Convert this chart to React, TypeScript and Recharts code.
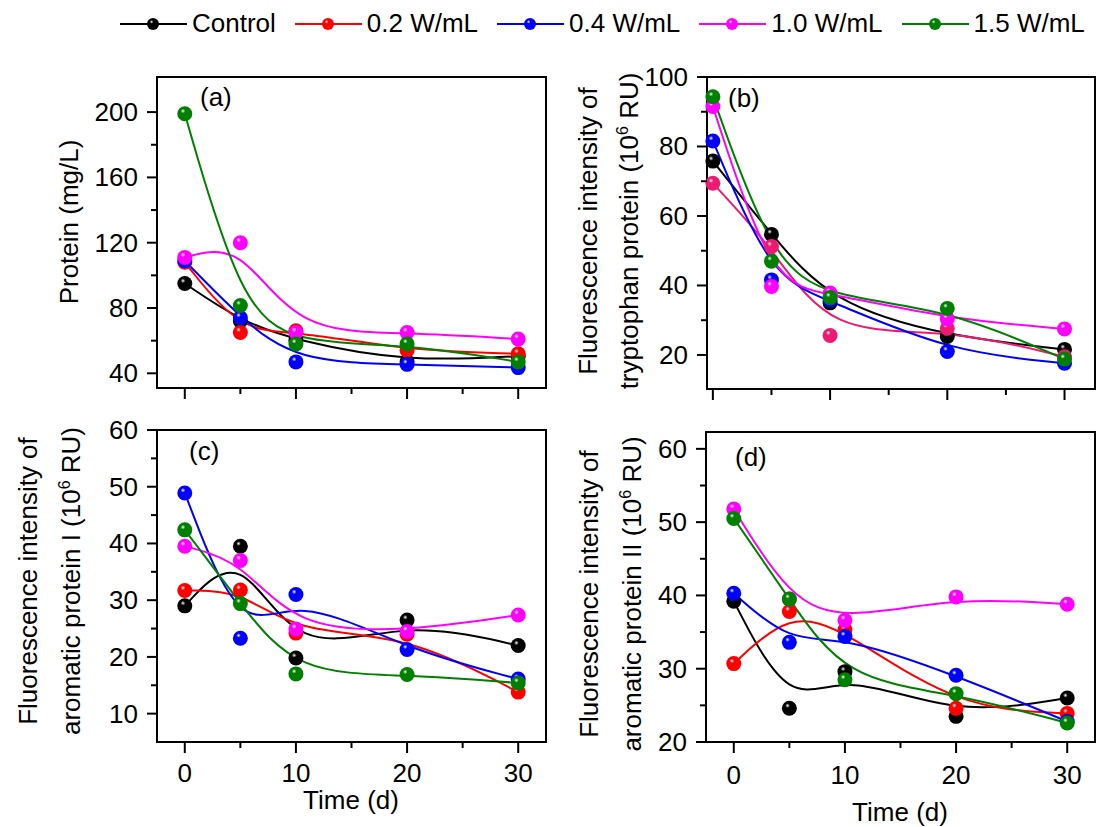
import React from 'react';
import { ComposedChart, Line, XAxis, YAxis, ReferenceArea } from 'recharts';

const FONT = '"Liberation Sans", Arial, sans-serif';

const days = [0, 5, 10, 20, 30];
const seriesNames = ['Control', '0.2 W/mL', '0.4 W/mL', '1.0 W/mL', '1.5 W/mL'];
const seriesKeys = ['control', 'w02', 'w04', 'w10', 'w15'];
const seriesColors = ['#000000', '#ff0000', '#0000ff', '#ff00ff', '#008000'];
// panel (b) shows the 0.2 W/mL series in a deeper pink
const seriesColorsB = ['#000000', '#ee1a72', '#0000ff', '#ff00ff', '#008000'];

const xTicks = [0, 5, 10, 15, 20, 25, 30];

// (a) protein, mg/L
const protControl = [95, 72, 60, 47, 50.5];
const prot02 = [108, 65, 66, 54, 52];
const prot04 = [109, 74, 47, 45.5, 43.5];
const prot10 = [111, 120, 65, 65, 61];
const prot15 = [199, 81.5, 58, 58, 47];
const protTicks = [40, 60, 80, 100, 120, 140, 160, 180, 200];

// (b) tryptophan protein, 10^6 RU
const trpControl = [75.8, 54.7, 35, 25.3, 21.6];
const trp02 = [69.4, 51.2, 25.6, 27.7, 19.5];
const trp04 = [81.6, 41.6, 35.8, 21, 17.6];
const trp10 = [91.5, 39.7, 37.8, 30.4, 27.5];
const trp15 = [94.3, 47, 36.5, 33.4, 18.8];
const trpTicks = [20, 30, 40, 50, 60, 70, 80, 90, 100];

// (c) aromatic protein I, 10^6 RU
const aro1Control = [29, 39.5, 19.8, 26.5, 22];
const aro102 = [31.7, 31.8, 24.2, 24, 13.8];
const aro104 = [48.9, 23.3, 31, 21.3, 16.1];
const aro110 = [39.5, 37, 24.9, 24.5, 27.4];
const aro115 = [42.4, 29.4, 17, 16.9, 15.4];
const aro1Ticks = [10, 15, 20, 25, 30, 35, 40, 45, 50, 55, 60];

// (d) aromatic protein II, 10^6 RU
const aro2Control = [39.2, 24.6, 29.6, 23.5, 26];
const aro202 = [30.7, 37.8, 35.3, 24.6, 23.9];
const aro204 = [40.3, 33.6, 34.4, 29.1, 22.8];
const aro210 = [51.8, 39.5, 36.6, 39.8, 38.8];
const aro215 = [50.5, 39.5, 28.5, 26.6, 22.6];
const aro2Ticks = [20, 25, 30, 35, 40, 45, 50, 55, 60];

const buildRows = (cols: number[][]) =>
  days.map((d, i) => {
    const row: Record<string, number> = { day: d };
    seriesKeys.forEach((k, s) => (row[k] = cols[s][i]));
    return row;
  });

const dataA = buildRows([protControl, prot02, prot04, prot10, prot15]);
const dataB = buildRows([trpControl, trp02, trp04, trp10, trp15]);
const dataC = buildRows([aro1Control, aro102, aro104, aro110, aro115]);
const dataD = buildRows([aro2Control, aro202, aro204, aro210, aro215]);

const BallGradients = ({ prefix, colors }: { prefix: string; colors: string[] }) => (
  <defs>
    {colors.map((c, i) => (
      <radialGradient key={i} id={`${prefix}-${i}`} cx="38%" cy="32%" r="70%">
        <stop offset="0%" stopColor="#ffffff" />
        <stop offset="22%" stopColor={c} />
        <stop offset="100%" stopColor={c} />
      </radialGradient>
    ))}
  </defs>
);

const makeXTick = (labels: boolean, labelOffset: number) => (p: any) => {
  const major = p.payload.value % 10 === 0;
  return (
    <g>
      <line x1={p.x} x2={p.x} y1={p.y} y2={p.y + (major ? 11 : 6)} stroke="#000" strokeWidth={2} />
      {labels && major && (
        <text x={p.x} y={p.y + labelOffset} textAnchor="middle" fontSize={26} fontFamily={FONT} fill="#000">
          {p.payload.value}
        </text>
      )}
    </g>
  );
};

const makeYTick = (step: number) => (p: any) => {
  const major = p.payload.value % step === 0;
  return (
    <g>
      <line x1={p.x - (major ? 10 : 6)} x2={p.x} y1={p.y} y2={p.y} stroke="#000" strokeWidth={2} />
      {major && (
        <text x={p.x - 19} y={p.y + 9} textAnchor="end" fontSize={26} fontFamily={FONT} fill="#000">
          {p.payload.value}
        </text>
      )}
    </g>
  );
};

const RotTitle = ({ x, y, children }: { x: number; y: number; children: React.ReactNode }) => (
  <text x={x} y={y} transform={`rotate(-90 ${x} ${y})`} textAnchor="middle" fontSize={26} fontFamily={FONT} fill="#000">
    {children}
  </text>
);

const Sup6 = () => (
  <>
    <tspan dy={-10} fontSize={16}>6</tspan>
    <tspan dy={10}> RU)</tspan>
  </>
);

type PanelProps = {
  id: string;
  data: Record<string, number>[];
  colors: string[];
  left: number;
  top: number;
  width: number;
  height: number;
  margin: { top: number; right: number; bottom: number; left: number };
  yWidth: number;
  xHeight: number;
  xDomain: [number, number];
  yDomain: [number, number];
  yTicks: number[];
  yStep: number;
  xLabels: boolean;
  xLabelOffset: number;
  children?: React.ReactNode;
};

const Panel = (p: PanelProps) => (
  <div style={{ position: 'absolute', left: p.left, top: p.top }}>
    <ComposedChart width={p.width} height={p.height} data={p.data} margin={p.margin}>
      <BallGradients prefix={p.id} colors={p.colors} />
      <XAxis
        dataKey="day"
        type="number"
        domain={p.xDomain}
        ticks={xTicks}
        height={p.xHeight}
        axisLine={false}
        tickLine={false}
        tickSize={0}
        tickMargin={0}
        interval={0}
        tick={makeXTick(p.xLabels, p.xLabelOffset)}
      />
      <YAxis
        type="number"
        domain={p.yDomain}
        ticks={p.yTicks}
        width={p.yWidth}
        axisLine={false}
        tickLine={false}
        tickSize={0}
        tickMargin={0}
        interval={0}
        tick={makeYTick(p.yStep)}
      />
      <ReferenceArea
        x1={p.xDomain[0]}
        x2={p.xDomain[1]}
        y1={p.yDomain[0]}
        y2={p.yDomain[1]}
        fill="none"
        stroke="#000"
        strokeWidth={2}
        ifOverflow="visible"
      />
      {seriesKeys.map((k, i) => (
        <Line
          key={k}
          dataKey={k}
          type="basis"
          stroke={p.colors[i]}
          strokeWidth={2}
          isAnimationActive={false}
          dot={(d: any) => (
            <circle key={`${k}-${d.index}`} cx={d.cx} cy={d.cy} r={7.5} fill={`url(#${p.id}-${i})`} />
          )}
          activeDot={false}
        />
      ))}
      {p.children}
    </ComposedChart>
  </div>
);

const LegendRow = () => (
  <div
    style={{
      position: 'absolute',
      left: 120,
      top: 8,
      display: 'flex',
      alignItems: 'center',
      fontFamily: FONT,
      fontSize: 26,
      color: '#000',
      whiteSpace: 'nowrap',
    }}
  >
    {seriesNames.map((n, i) => (
      <div key={n} style={{ display: 'flex', alignItems: 'center', marginRight: 19 }}>
        <svg width={67} height={20}>
          <defs>
            <radialGradient id={`leg-${i}`} cx="38%" cy="32%" r="70%">
              <stop offset="0%" stopColor="#ffffff" />
              <stop offset="22%" stopColor={seriesColors[i]} />
              <stop offset="100%" stopColor={seriesColors[i]} />
            </radialGradient>
          </defs>
          <line x1={0} x2={67} y1={10} y2={10} stroke={seriesColors[i]} strokeWidth={2} />
          <circle cx={33} cy={10} r={6} fill={`url(#leg-${i})`} />
        </svg>
        <span style={{ marginLeft: 5 }}>{n}</span>
      </div>
    ))}
  </div>
);

const labelStyle = { fontSize: 26, fontFamily: FONT, fill: '#000' };

export default function App() {
  return (
    <div style={{ position: 'absolute', left: 0, top: 0, width: 1102, height: 827, background: '#fff', overflow: 'hidden' }}>
      <LegendRow />

      <Panel
        id="pa"
        data={dataA}
        colors={seriesColors}
        left={0}
        top={60}
        width={560}
        height={345}
        margin={{ top: 17, right: 14, bottom: 0, left: 0 }}
        yWidth={157}
        xHeight={17}
        xDomain={[-2.5, 32.5]}
        yDomain={[31, 221.5]}
        yTicks={protTicks}
        yStep={40}
        xLabels={false}
        xLabelOffset={40}
      >
        <RotTitle x={78} y={162}>Protein (mg/L)</RotTitle>
        <text x={200} y={46} {...labelStyle}>(a)</text>
      </Panel>

      <Panel
        id="pb"
        data={dataB}
        colors={seriesColorsB}
        left={560}
        top={60}
        width={542}
        height={345}
        margin={{ top: 17, right: 7, bottom: 0, left: 0 }}
        yWidth={147}
        xHeight={16}
        xDomain={[-0.5, 32.6]}
        yDomain={[10.2, 100]}
        yTicks={trpTicks}
        yStep={20}
        xLabels={false}
        xLabelOffset={40}
      >
        <RotTitle x={37} y={171}>Fluorescence intensity of</RotTitle>
        <RotTitle x={78} y={171}>
          tryptophan protein (10<Sup6 />
        </RotTitle>
        <text x={168} y={47} {...labelStyle}>(b)</text>
      </Panel>

      <Panel
        id="pc"
        data={dataC}
        colors={seriesColors}
        left={0}
        top={410}
        width={560}
        height={407}
        margin={{ top: 20, right: 14, bottom: 0, left: 0 }}
        yWidth={157}
        xHeight={75}
        xDomain={[-2.5, 32.5]}
        yDomain={[5, 60]}
        yTicks={aro1Ticks}
        yStep={10}
        xLabels={true}
        xLabelOffset={40}
      >
        <RotTitle x={37} y={171}>Fluorescence intensity of</RotTitle>
        <RotTitle x={80} y={171}>
          aromatic protein I (10<Sup6 />
        </RotTitle>
        <text x={189} y={50} {...labelStyle}>(c)</text>
        <text x={351} y={399} textAnchor="middle" {...labelStyle}>Time (d)</text>
      </Panel>

      <Panel
        id="pd"
        data={dataD}
        colors={seriesColors}
        left={560}
        top={410}
        width={542}
        height={417}
        margin={{ top: 22, right: 7, bottom: 0, left: 0 }}
        yWidth={146}
        xHeight={85}
        xDomain={[-2.5, 32.5]}
        yDomain={[20, 62.3]}
        yTicks={aro2Ticks}
        yStep={10}
        xLabels={true}
        xLabelOffset={42}
      >
        <RotTitle x={38} y={184}>Fluorescence intensity of</RotTitle>
        <RotTitle x={81} y={184}>
          aromatic protein II (10<Sup6 />
        </RotTitle>
        <text x={175} y={56} {...labelStyle}>(d)</text>
        <text x={340} y={411} textAnchor="middle" {...labelStyle}>Time (d)</text>
      </Panel>
    </div>
  );
}
